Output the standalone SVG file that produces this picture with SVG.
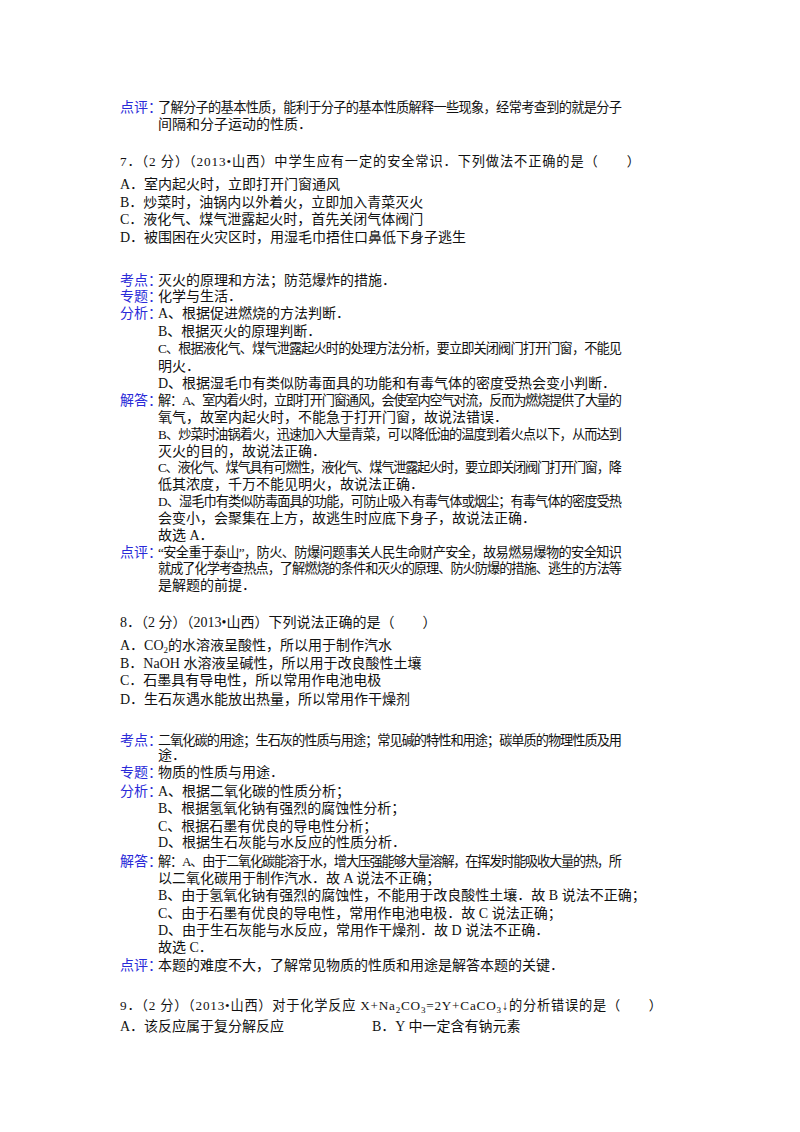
<svg xmlns="http://www.w3.org/2000/svg" width="800" height="1132" viewBox="0 0 800 1132">
<style>
text{font-family:"Liberation Serif","Noto Sans CJK SC",serif;font-size:14px;fill:#111}
.w{font-size:13.2px}
.l{fill:#2a2ad8}
</style>
<rect width="800" height="1132" fill="#fff"/>
<g id="p1">
<text class="l" x="120" y="112">点评：</text>
<text class="w" x="158" y="112" textLength="464" lengthAdjust="spacing">了解分子的基本性质，能利于分子的基本性质解释一些现象，经常考查到的就是分子</text>
<text x="158" y="129">间隔和分子运动的性质．</text>
</g>
<g id="q7">
<text class="w" x="120" y="166" textLength="520" lengthAdjust="spacing">7．（2 分）（2013•山西）中学生应有一定的安全常识．下列做法不正确的是（　　）</text>
<text x="120" y="189">A．室内起火时，立即打开门窗通风</text>
<text x="120" y="207">B．炒菜时，油锅内以外着火，立即加入青菜灭火</text>
<text x="120" y="224">C．液化气、煤气泄露起火时，首先关闭气体阀门</text>
<text x="120" y="242">D．被围困在火灾区时，用湿毛巾捂住口鼻低下身子逃生</text>
</g>
<g id="a7">
<text class="l" x="120" y="285">考点：</text><text x="158" y="285">灭火的原理和方法；防范爆炸的措施．</text>
<text class="l" x="120" y="301">专题：</text><text x="158" y="301">化学与生活．</text>
<text class="l" x="120" y="318">分析：</text><text x="158" y="318">A、根据促进燃烧的方法判断．</text>
<text x="158" y="336">B、根据灭火的原理判断．</text>
<text class="w" x="158" y="353" textLength="464" lengthAdjust="spacing">C、根据液化气、煤气泄露起火时的处理方法分析，要立即关闭阀门打开门窗，不能见</text>
<text x="158" y="371">明火．</text>
<text x="158" y="388">D、根据湿毛巾有类似防毒面具的功能和有毒气体的密度受热会变小判断．</text>
<text class="l" x="120" y="405">解答：</text><text class="w" x="158" y="405" textLength="464" lengthAdjust="spacing">解：A、室内着火时，立即打开门窗通风，会使室内空气对流，反而为燃烧提供了大量的</text>
<text x="158" y="422">氧气，故室内起火时，不能急于打开门窗，故说法错误．</text>
<text class="w" x="158" y="439" textLength="464" lengthAdjust="spacing">B、炒菜时油锅着火，迅速加入大量青菜，可以降低油的温度到着火点以下，从而达到</text>
<text x="158" y="456">灭火的目的，故说法正确．</text>
<text class="w" x="158" y="472" textLength="464" lengthAdjust="spacing">C、液化气、煤气具有可燃性，液化气、煤气泄露起火时，要立即关闭阀门打开门窗，降</text>
<text x="158" y="489">低其浓度，千万不能见明火，故说法正确．</text>
<text class="w" x="158" y="506" textLength="464" lengthAdjust="spacing">D、湿毛巾有类似防毒面具的功能，可防止吸入有毒气体或烟尘；有毒气体的密度受热</text>
<text x="158" y="523">会变小，会聚集在上方，故逃生时应底下身子，故说法正确．</text>
<text x="158" y="540">故选 A．</text>
<text class="l" x="120" y="557">点评：</text><text class="w" x="158" y="557" textLength="464" lengthAdjust="spacing">“安全重于泰山”，防火、防爆问题事关人民生命财产安全，故易燃易爆物的安全知识</text>
<text class="w" x="158" y="573" textLength="464" lengthAdjust="spacing">就成了化学考查热点，了解燃烧的条件和灭火的原理、防火防爆的措施、逃生的方法等</text>
<text x="158" y="590">是解题的前提．</text>
</g>
<g id="q8">
<text x="120" y="627">8．（2 分）（2013•山西）下列说法正确的是（　　）</text>
<text x="120" y="650">A．CO<tspan font-size="9" dy="3">2</tspan><tspan dy="-3">的水溶液呈酸性，所以用于制作汽水</tspan></text>
<text x="120" y="668">B．NaOH 水溶液呈碱性，所以用于改良酸性土壤</text>
<text x="120" y="685">C．石墨具有导电性，所以常用作电池电极</text>
<text x="120" y="704">D．生石灰遇水能放出热量，所以常用作干燥剂</text>
</g>
<g id="a8">
<text class="l" x="120" y="745">考点：</text><text class="w" x="158" y="745" textLength="464" lengthAdjust="spacing">二氧化碳的用途；生石灰的性质与用途；常见碱的特性和用途；碳单质的物理性质及用</text>
<text x="158" y="760">途．</text>
<text class="l" x="120" y="777">专题：</text><text x="158" y="777">物质的性质与用途．</text>
<text class="l" x="120" y="796">分析：</text><text x="158" y="796">A、根据二氧化碳的性质分析；</text>
<text x="158" y="813">B、根据氢氧化钠有强烈的腐蚀性分析；</text>
<text x="158" y="831">C、根据石墨有优良的导电性分析；</text>
<text x="158" y="847">D、根据生石灰能与水反应的性质分析．</text>
<text class="l" x="120" y="866">解答：</text><text class="w" x="158" y="866" textLength="464" lengthAdjust="spacing">解：A、由于二氧化碳能溶于水，增大压强能够大量溶解，在挥发时能吸收大量的热，所</text>
<text x="158" y="883">以二氧化碳用于制作汽水．故 A 说法不正确；</text>
<text x="158" y="900">B、由于氢氧化钠有强烈的腐蚀性，不能用于改良酸性土壤．故 B 说法不正确；</text>
<text x="158" y="918">C、由于石墨有优良的导电性，常用作电池电极．故 C 说法正确；</text>
<text x="158" y="935">D、由于生石灰能与水反应，常用作干燥剂．故 D 说法不正确．</text>
<text x="158" y="952">故选 C．</text>
<text class="l" x="120" y="970">点评：</text><text x="158" y="970">本题的难度不大，了解常见物质的性质和用途是解答本题的关键．</text>
</g>
<g id="q9">
<text class="w" x="120" y="1010" textLength="542" lengthAdjust="spacing">9．（2 分）（2013•山西）对于化学反应 X+Na<tspan font-size="9" dy="3">2</tspan><tspan dy="-3">CO</tspan><tspan font-size="9" dy="3">3</tspan><tspan dy="-3">=2Y+CaCO</tspan><tspan font-size="9" dy="3">3</tspan><tspan dy="-3">↓的分析错误的是（　　）</tspan></text>
<text x="120" y="1031">A．该反应属于复分解反应</text>
<text x="372" y="1031">B．Y 中一定含有钠元素</text>
</g>
</svg>
